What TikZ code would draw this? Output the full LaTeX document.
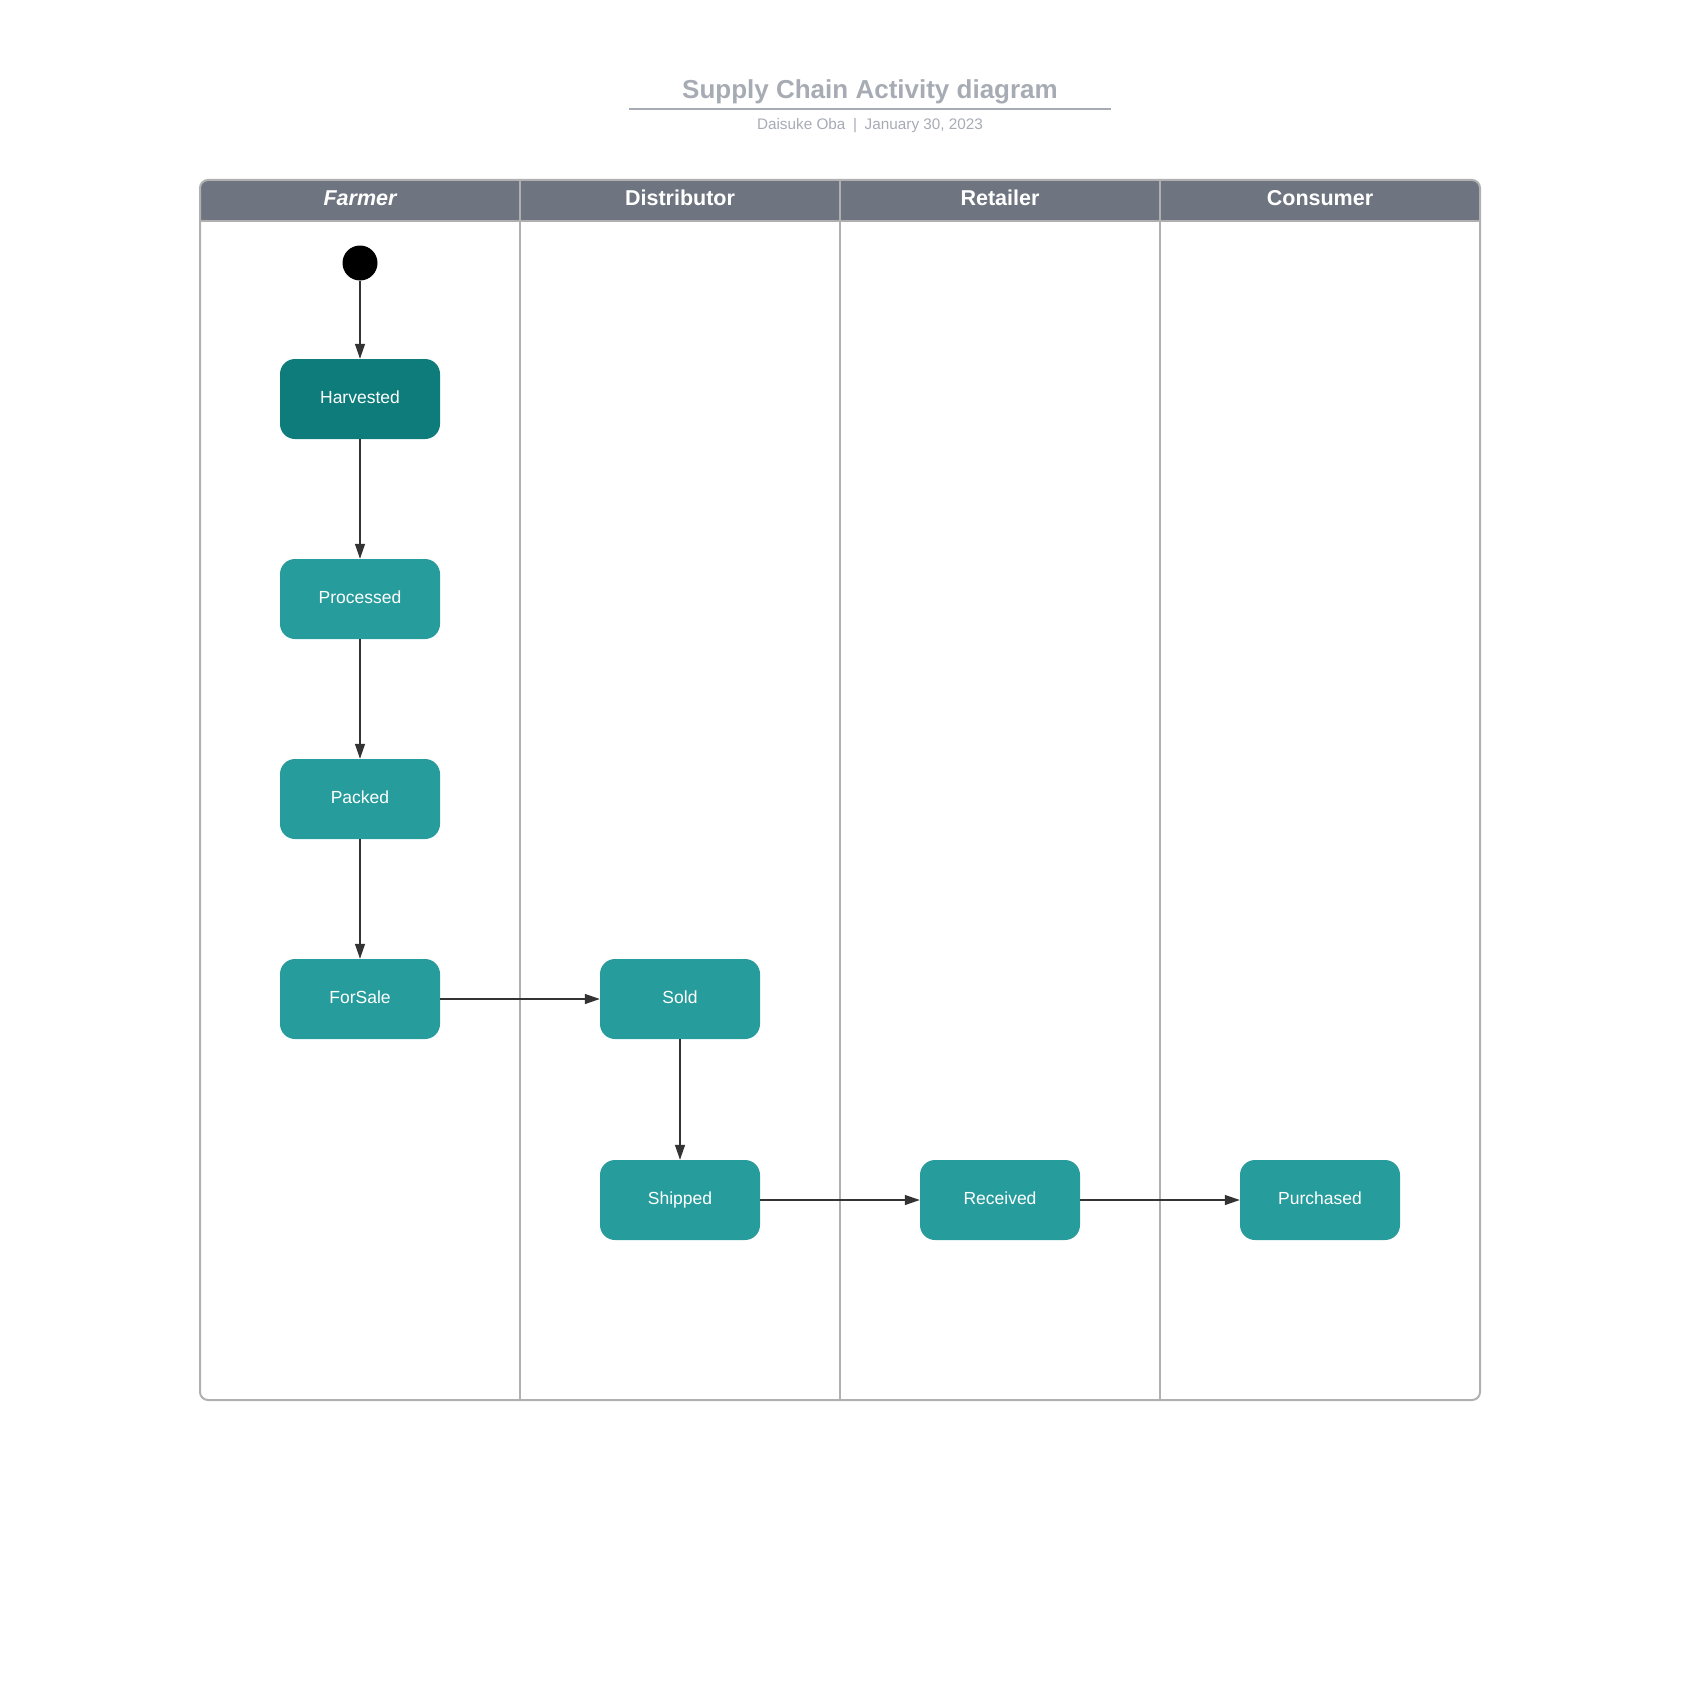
\documentclass[tikz,border=0pt]{standalone}
\usepackage{fontspec}
\setmainfont{Liberation Sans}
\usetikzlibrary{arrows.meta}
\definecolor{hdrcol}{HTML}{6F7580}
\definecolor{framecol}{HTML}{B0B0B0}
\definecolor{titlecol}{HTML}{A6ABB4}
\definecolor{tealdark}{HTML}{0E7C7B}
\definecolor{teal}{HTML}{279C9C}
\definecolor{arrowcol}{HTML}{333333}
\tikzset{
  activity/.style={rectangle, rounded corners=15pt, fill=teal, text=white,
    minimum width=160pt, minimum height=80pt, inner sep=0pt,
    text height=13pt, text depth=4pt,
    font=\fontsize{17.5}{20}\selectfont},
  lanehead/.style={text=white, inner sep=0pt, text height=15.5pt, text depth=0pt,
    font=\fontsize{21.5}{25}\selectfont\bfseries},
  frameline/.style={draw=framecol, line width=2pt},
  flow/.style={draw=arrowcol, line width=1.3pt, -{Triangle[length=15pt,width=10pt]}},
}
\begin{document}
\begin{tikzpicture}[x=1pt,y=-1pt]
\useasboundingbox (0,0) rectangle (1699,1699);
% title
\node[text=titlecol, font=\fontsize{26}{30}\selectfont\bfseries, anchor=base] (title) at (870,99) {Supply Chain Activity diagram};
\coordinate (ulA) at (629,109);
\coordinate (ulB) at (1111,109);
\draw[titlecol, line width=2pt] (ulA) -- (ulB);
\node[text=titlecol, font=\fontsize{15.3}{18}\selectfont] (subtitle) at (870,126) {Daisuke Oba\enspace|\enspace January 30, 2023};
% header
\begin{scope}
\clip (200,180) rectangle (1480,221);
\fill[hdrcol, rounded corners=8pt] (200,180) rectangle (1480,1400);
\end{scope}
\draw[frameline, rounded corners=8pt] (200,180) rectangle (1480,1400);
\draw[frameline] (200,221) -- (1480,221);
\foreach \x in {520,840,1160} \draw[frameline] (\x,180) -- (\x,1400);
\node[lanehead, font=\fontsize{21.5}{25}\selectfont\bfseries\itshape] (farmer) at (360,198) {Farmer};
\node[lanehead] (distributor) at (680,198) {Distributor};
\node[lanehead] (retailer) at (1000,198) {Retailer};
\node[lanehead] (consumer) at (1320,198) {Consumer};
% nodes
\node[circle, fill=black, minimum size=35pt, inner sep=0pt] (start) at (360,263) {};
\node[activity, fill=tealdark] (harv) at (360,399) {Harvested};
\node[activity] (proc) at (360,599) {Processed};
\node[activity] (pack) at (360,799) {Packed};
\node[activity] (fors) at (360,999) {ForSale};
\node[activity] (sold) at (680,999) {Sold};
\node[activity] (ship) at (680,1200) {Shipped};
\node[activity] (recv) at (1000,1200) {Received};
\node[activity] (purc) at (1320,1200) {Purchased};
% connectors
\draw[flow] (start) -- (harv);
\draw[flow] (harv) -- (proc);
\draw[flow] (proc) -- (pack);
\draw[flow] (pack) -- (fors);
\draw[flow] (fors) -- (sold);
\draw[flow] (sold) -- (ship);
\draw[flow] (ship) -- (recv);
\draw[flow] (recv) -- (purc);
\end{tikzpicture}
\end{document}
